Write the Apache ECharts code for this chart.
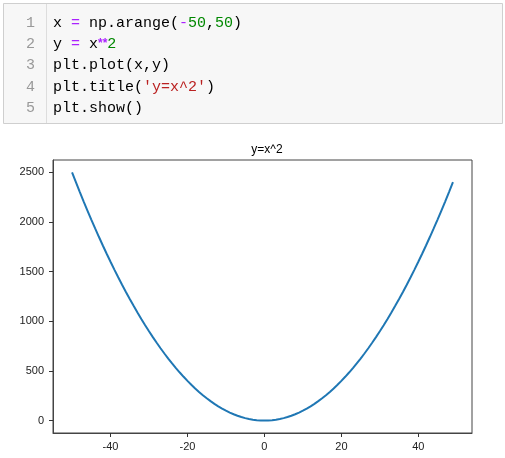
<!DOCTYPE html>
<html><head><meta charset="utf-8">
<script src="https://cdn.jsdelivr.net/npm/echarts@6/dist/echarts.min.js"></script>
<style>html,body{margin:0;padding:0;background:#fff}#c{width:505px;height:458px}</style>
</head><body><div id="c"></div>
<script>
var xValues = [-50,-49,-48,-47,-46,-45,-44,-43,-42,-41,-40,-39,-38,-37,-36,-35,-34,-33,-32,-31,-30,-29,-28,-27,-26,-25,-24,-23,-22,-21,-20,-19,-18,-17,-16,-15,-14,-13,-12,-11,-10,-9,-8,-7,-6,-5,-4,-3,-2,-1,0,1,2,3,4,5,6,7,8,9,10,11,12,13,14,15,16,17,18,19,20,21,22,23,24,25,26,27,28,29,30,31,32,33,34,35,36,37,38,39,40,41,42,43,44,45,46,47,48,49];
var yValues = [2500,2401,2304,2209,2116,2025,1936,1849,1764,1681,1600,1521,1444,1369,1296,1225,1156,1089,1024,961,900,841,784,729,676,625,576,529,484,441,400,361,324,289,256,225,196,169,144,121,100,81,64,49,36,25,16,9,4,1,0,1,4,9,16,25,36,49,64,81,100,121,144,169,196,225,256,289,324,361,400,441,484,529,576,625,676,729,784,841,900,961,1024,1089,1156,1225,1296,1369,1444,1521,1600,1681,1764,1849,1936,2025,2116,2209,2304,2401];
var xTicks = [-40,-20,0,20,40];
var yTicks = [0,500,1000,1500,2000,2500];
var titleText = 'y=x^2';
var lineNumbers = ['1','2','3','4','5'];

var chart = echarts.init(document.getElementById('c'), null, {renderer:'canvas'});
var mono = '"Liberation Mono", "DejaVu Sans Mono", monospace';
var codeRich = {
  k:{fill:'#000'}, o:{fill:'#aa22ff'}, ob:{fill:'#aa22ff', fontWeight:'bold'},
  n:{fill:'#008800'}, s:{fill:'#ba2121'}
};
var codeLines = [
  '{k|x }{o|=}{k| np.arange(}{o|-}{n|50}{k|,}{n|50}{k|)}',
  '{k|y }{o|=}{k| x}{ob|**}{n|2}',
  '{k|plt.plot(x,y)}',
  '{k|plt.title(}{s|\'y=x^2\'}{k|)}',
  '{k|plt.show()}'
];
var lineY = [23, 44, 65, 87, 108];
var graphics = [
  {type:'rect', shape:{x:3.5, y:3.5, width:499, height:120}, style:{fill:'#f7f7f7', stroke:'#cfcfcf', lineWidth:1}, z:0},
  {type:'line', shape:{x1:46.5, y1:4, x2:46.5, y2:123}, style:{stroke:'#dddddd', lineWidth:1}, z:1}
];
for (var i=0;i<5;i++){
  graphics.push({type:'text', x:35, y:lineY[i], z:2, style:{text:lineNumbers[i], fill:'#999', font:'15px '+mono, textAlign:'right', textVerticalAlign:'middle'}});
  graphics.push({type:'text', x:53, y:lineY[i], z:2, style:{text:codeLines[i], font:'15px '+mono, textVerticalAlign:'middle', rich:codeRich}});
}
var axisCol = '#333';
function plain(v){ return String(v); }
chart.setOption({
  animation:false,
  title:{text:titleText, left:262, top:139, textAlign:'center', textStyle:{fontFamily:'Liberation Sans', fontSize:12, fontWeight:'normal', color:'#000'}},
  grid:{left:53, top:160, right:33, bottom:25, show:true, borderColor:'#444', borderWidth:1, backgroundColor:'#fff'},
  xAxis:{type:'value', min:-54.95, max:53.95, splitLine:{show:false},
    axisLine:{onZero:false, lineStyle:{color:'#444'}},
    axisTick:{show:true, inside:false, length:4, lineStyle:{color:axisCol}, customValues:xTicks},
    axisLabel:{customValues:xTicks, formatter:plain, color:'#222', fontFamily:'Liberation Sans', fontSize:11, margin:8}},
  yAxis:{type:'value', min:-125, max:2625, splitLine:{show:false},
    axisLine:{show:true, onZero:false, lineStyle:{color:'#444'}},
    axisTick:{show:true, inside:false, length:4, lineStyle:{color:axisCol}, customValues:yTicks},
    axisLabel:{customValues:yTicks, formatter:plain, color:'#222', fontFamily:'Liberation Sans', fontSize:11, margin:9}},
  series:[{type:'line', data:xValues.map(function(x,i){return [x, yValues[i]];}), showSymbol:false, smooth:false,
    lineStyle:{color:'#1f77b4', width:2}}],
  graphic:graphics
});
</script></body></html>
